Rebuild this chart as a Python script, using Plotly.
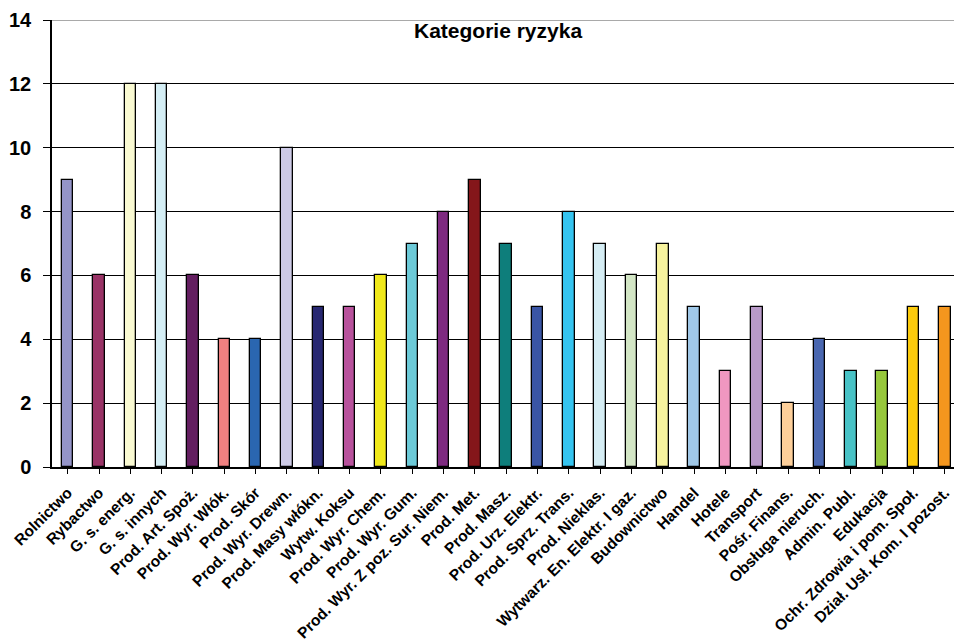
import plotly.graph_objects as go

categories = [
    "Rolnictwo", "Rybactwo", "G. s. energ.", "G. s. innych", "Prod. Art. Spoż.",
    "Prod. Wyr. Włók.", "Prod. Skór", "Prod. Wyr. Drewn.", "Prod. Masy włókn.",
    "Wytw. Koksu", "Prod. Wyr. Chem.", "Prod. Wyr. Gum.", "Prod. Wyr. Z poz. Sur. Niem.",
    "Prod. Met.", "Prod. Masz.", "Prod. Urz. Elektr.", "Prod. Sprz. Trans.",
    "Prod. Nieklas.", "Wytwarz. En. Elektr. I gaz.", "Budownictwo", "Handel",
    "Hotele", "Transport", "Pośr. Finans.", "Obsługa nieruch.", "Admin. Publ.",
    "Edukacja", "Ochr. Zdrowia i pom. Społ.", "Dział. Usł. Kom. I pozost.",
]
values = [9, 6, 12, 12, 6, 4, 4, 10, 5, 5, 6, 7, 8, 9, 7, 5, 8, 7, 6, 7, 5, 3, 5, 2, 4, 3, 3, 5, 5]
colors = [
    "#9494c8", "#993366", "#fafad2", "#d4eef5", "#631e60", "#f08080", "#2a66b0",
    "#cdcae6", "#272771", "#b8529c", "#f0e81a", "#6ccad8", "#7e2a80", "#84161a",
    "#0e7e7b", "#3a55a5", "#35c4f0", "#d5edf4", "#d3e6c5", "#f7f39e", "#a0c8e8",
    "#f097c0", "#b89ac8", "#fdcf9a", "#4a67b0", "#48c2c6", "#97c83c", "#fccb0c",
    "#f4961e",
]
y_ticks = [0, 2, 4, 6, 8, 10, 12, 14]
title = "Kategorie ryzyka"

fig = go.Figure()
fig.add_trace(go.Bar(
    x=list(range(len(categories))), y=values,
    marker=dict(color=colors, line=dict(color="black", width=1.3)),
    width=0.37,
))

fig.update_layout(
    width=954, height=643,
    margin=dict(l=52, r=0, t=20, b=176, autoexpand=False),
    plot_bgcolor="white", paper_bgcolor="white",
    showlegend=False,
    font=dict(family="Liberation Sans, Arial, sans-serif", color="black"),
    bargap=0,
)
fig.update_xaxes(
    range=[-0.5, 28.29], automargin=False,
    tickmode="array", tickvals=list(range(len(categories))), ticktext=categories,
    tickangle=-45,
    tickfont=dict(size=15.5, weight="bold", color="black"),
    ticklabelstandoff=4,
    showline=True, linecolor="black", linewidth=1.5,
    ticks="outside", ticklen=5, tickcolor="black", tickwidth=1.2,
    tickson="boundaries",
    showgrid=False, zeroline=False,
)
fig.update_yaxes(
    range=[0, 14], tickvals=y_ticks, automargin=False,
    tickfont=dict(size=20, weight="bold", color="black"),
    ticklabelstandoff=8,
    showline=True, linecolor="black", linewidth=1.5,
    ticks="outside", ticklen=7, tickcolor="black", tickwidth=1.2,
    showgrid=True, gridcolor="black", gridwidth=1.3,
    zeroline=False,
)
fig.add_shape(type="line", xref="paper", yref="y", x0=0, x1=1, y0=14, y1=14,
              line=dict(color="#8c8c8c", width=1.5), layer="above")
fig.add_annotation(
    text=title, xref="paper", yref="paper", x=0.494, y=0.977,
    xanchor="center", yanchor="middle", showarrow=False,
    font=dict(size=21, weight="bold", color="black"),
)
fig.write_html(
    "out.html",
    config={"displayModeBar": False},
    post_script="document.body.style.margin='0';document.body.style.overflow='hidden';",
)
